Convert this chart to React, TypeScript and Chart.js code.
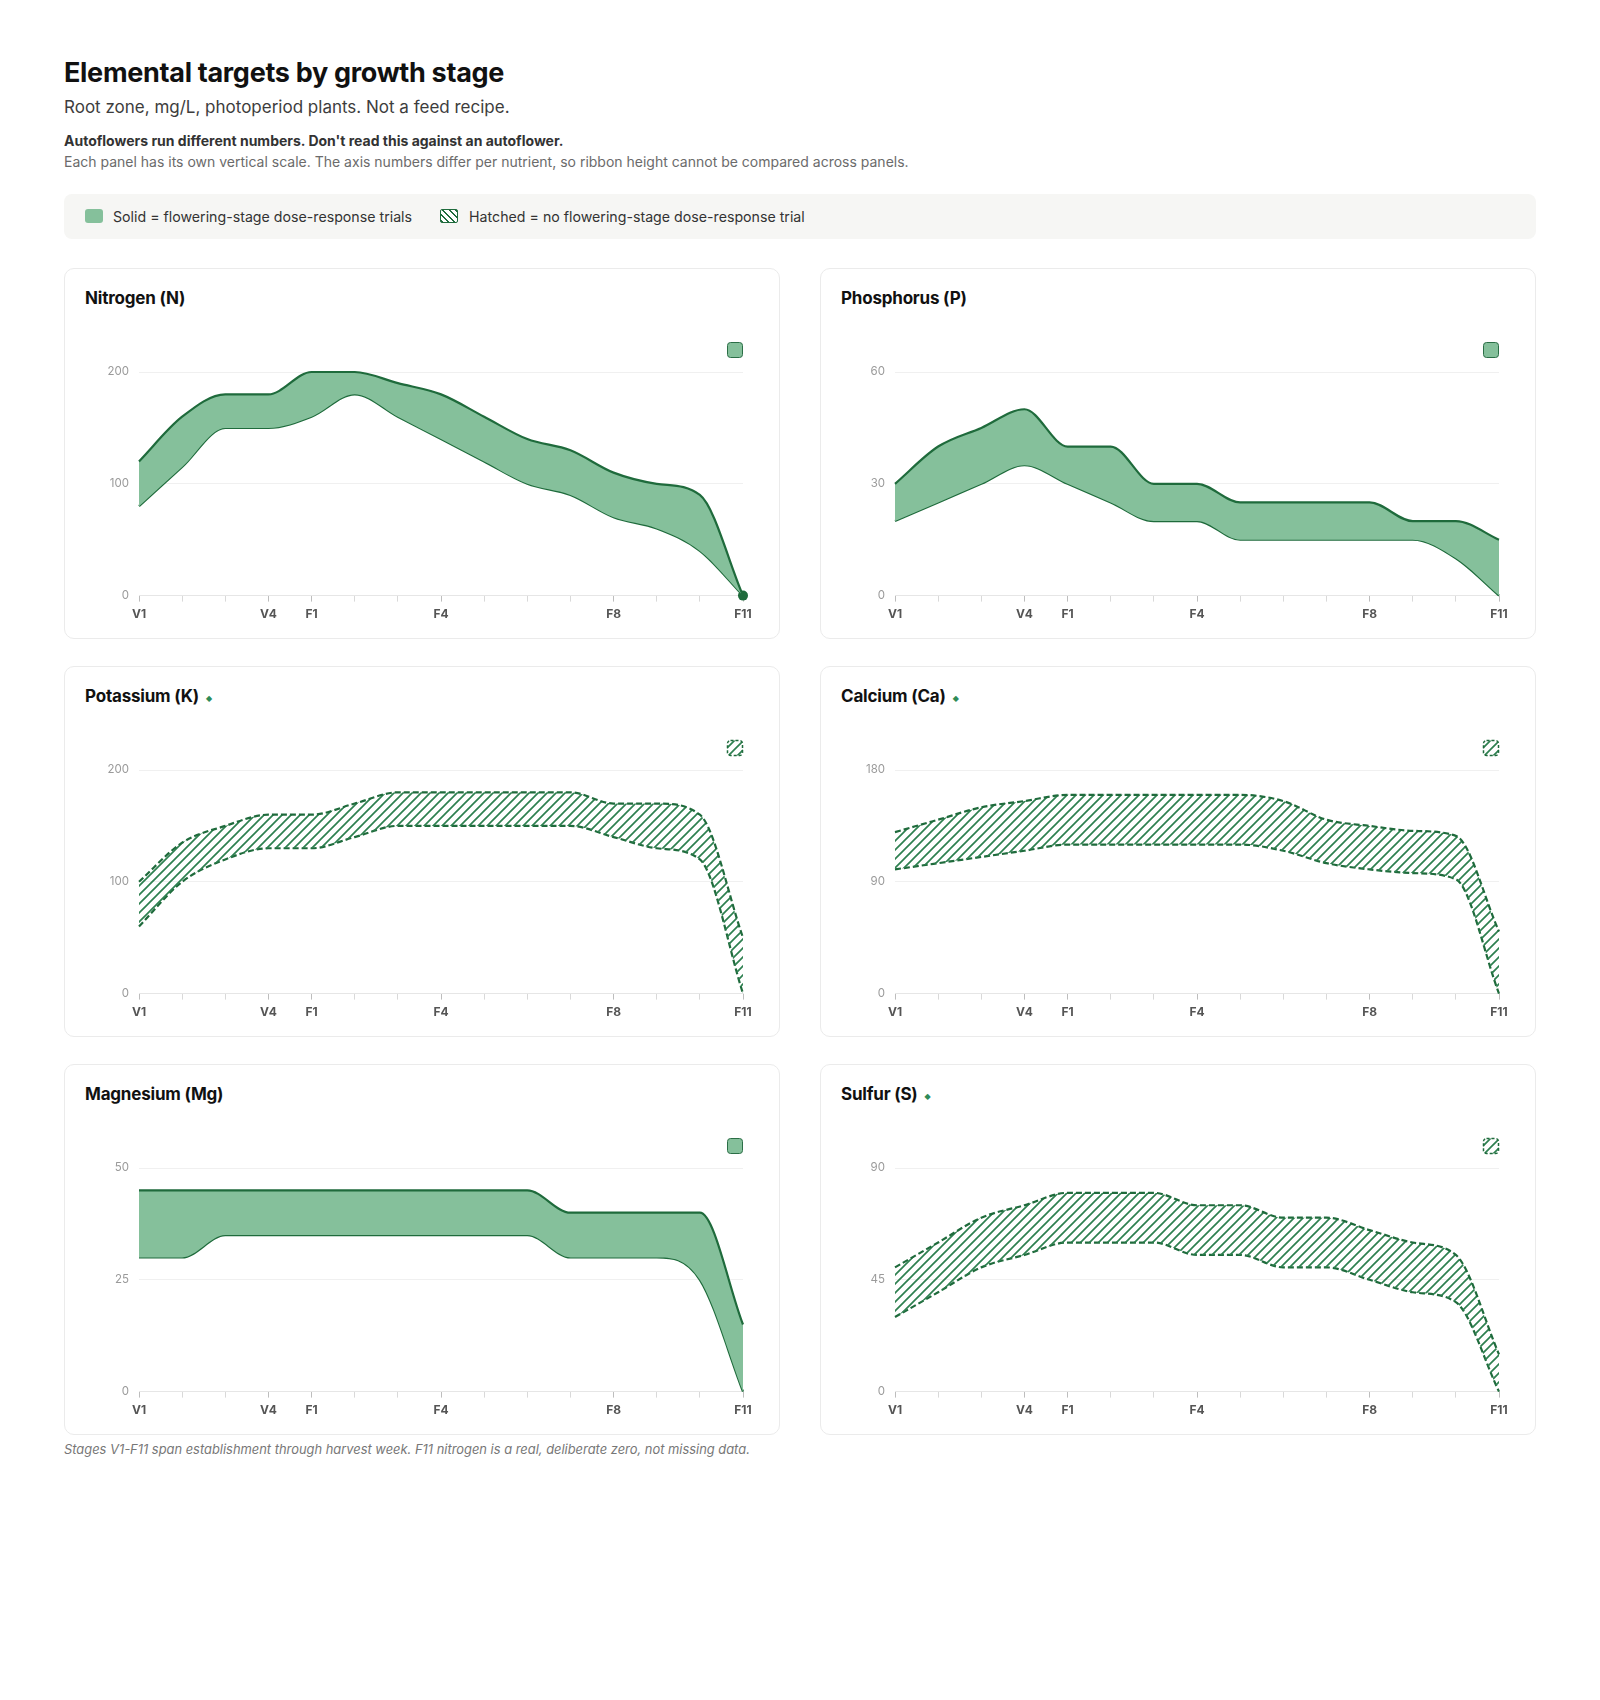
import React, { useEffect, useRef } from 'react';
import { Chart, registerables } from 'chart.js';

Chart.register(...registerables);

// ---------- data ----------
const stages = ['V1', 'V2', 'V3', 'V4', 'F1', 'F2', 'F3', 'F4', 'F5', 'F6', 'F7', 'F8', 'F9', 'F10', 'F11'];
const labeledStages = ['V1', 'V4', 'F1', 'F4', 'F8', 'F11'];

const nitrogenHigh = [120, 160, 180, 180, 200, 200, 190, 180, 160, 140, 130, 110, 100, 90, 0];
const nitrogenLow = [80, 115, 150, 150, 160, 180, 160, 140, 120, 100, 90, 70, 60, 40, 0];

const phosphorusHigh = [30, 40, 45, 50, 40, 40, 30, 30, 25, 25, 25, 25, 20, 20, 15];
const phosphorusLow = [20, 25, 30, 35, 30, 25, 20, 20, 15, 15, 15, 15, 15, 10, 0];

const potassiumHigh = [100, 135, 150, 160, 160, 170, 180, 180, 180, 180, 180, 170, 170, 160, 50];
const potassiumLow = [60, 100, 120, 130, 130, 140, 150, 150, 150, 150, 150, 140, 130, 120, 0];

const calciumHigh = [130, 140, 150, 155, 160, 160, 160, 160, 160, 155, 140, 135, 131, 127, 50];
const calciumLow = [100, 105, 110, 115, 120, 120, 120, 120, 120, 115, 105, 100, 97, 92, 0];

const magnesiumHigh = [45, 45, 45, 45, 45, 45, 45, 45, 45, 45, 40, 40, 40, 40, 15];
const magnesiumLow = [30, 30, 35, 35, 35, 35, 35, 35, 35, 35, 30, 30, 30, 25, 0];

const sulfurHigh = [50, 60, 70, 75, 80, 80, 80, 75, 75, 70, 70, 65, 60, 55, 15];
const sulfurLow = [30, 40, 50, 55, 60, 60, 60, 55, 55, 50, 50, 45, 40, 36, 0];

const nutrientNames = ['Nitrogen (N)', 'Phosphorus (P)', 'Potassium (K)', 'Calcium (Ca)', 'Magnesium (Mg)', 'Sulfur (S)'];
const nutrientAxisMax = [200, 60, 200, 180, 50, 90];
const nutrientHatched = [false, false, true, true, false, true];
const highSeries = [nitrogenHigh, phosphorusHigh, potassiumHigh, calciumHigh, magnesiumHigh, sulfurHigh];
const lowSeries = [nitrogenLow, phosphorusLow, potassiumLow, calciumLow, magnesiumLow, sulfurLow];

// ---------- styles ----------
const DARK = '#1f6b3c';
const FILL = '#85c09b';
const HATCH = '#2e8050';
const FONT = 'Inter, "Noto Sans", sans-serif';

function makeHatch(ctx: CanvasRenderingContext2D, color: string, spacing = 9, width = 1.7) {
  const c = document.createElement('canvas');
  c.width = spacing;
  c.height = spacing;
  const g = c.getContext('2d')!;
  g.strokeStyle = color;
  g.lineWidth = width;
  g.beginPath();
  g.moveTo(0, spacing);
  g.lineTo(spacing, 0);
  g.moveTo(-spacing, spacing);
  g.lineTo(spacing, -spacing);
  g.moveTo(0, spacing * 2);
  g.lineTo(spacing * 2, 0);
  g.stroke();
  return ctx.createPattern(c, 'repeat');
}

const swatchPlugin = {
  id: 'rangeSwatch',
  afterDraw(chart: any, _args: any, opts: any) {
    const { ctx, chartArea } = chart;
    const s = 16;
    const x = chartArea.right - s;
    const y = chartArea.top - 30;
    ctx.save();
    ctx.beginPath();
    ctx.roundRect(x + 0.5, y + 0.5, s - 1, s - 1, 3);
    if (opts.hatched) {
      ctx.fillStyle = '#ffffff';
      ctx.fill();
      ctx.save();
      ctx.clip();
      ctx.fillStyle = opts.pattern;
      ctx.fillRect(x, y, s, s);
      ctx.restore();
      ctx.setLineDash([3, 2]);
      ctx.strokeStyle = DARK;
      ctx.lineWidth = 1.5;
      ctx.stroke();
    } else {
      ctx.fillStyle = FILL;
      ctx.fill();
      ctx.strokeStyle = '#2b6e46';
      ctx.lineWidth = 1;
      ctx.stroke();
    }
    ctx.restore();
  },
};

function Panel({ index }: { index: number }) {
  const ref = useRef<HTMLCanvasElement | null>(null);
  const hatched = nutrientHatched[index];
  const max = nutrientAxisMax[index];
  const high = highSeries[index];
  const low = lowSeries[index];

  useEffect(() => {
    const canvas = ref.current;
    if (!canvas) return;
    const ctx2d = canvas.getContext('2d')!;
    const pattern = makeHatch(ctx2d, HATCH);
    const dash = hatched ? [6, 3] : [];
    const chart = new Chart(canvas, {
      type: 'line',
      data: {
        labels: stages,
        datasets: [
          {
            label: nutrientNames[index] + ' upper',
            data: high,
            borderColor: DARK,
            borderWidth: 2.2,
            borderDash: dash,
            backgroundColor: hatched ? (pattern as any) : FILL,
            fill: '+1',
            pointRadius: 0,
            cubicInterpolationMode: 'monotone',
            clip: 8,
          },
          {
            label: nutrientNames[index] + ' lower',
            data: low,
            borderColor: DARK,
            borderWidth: 2.2,
            borderDash: dash,
            fill: false,
            pointRadius: high.map((v) => (v === 0 ? 5 : 0)),
            pointBackgroundColor: DARK,
            pointBorderColor: DARK,
            pointBorderWidth: 0,
            cubicInterpolationMode: 'monotone',
            clip: 8,
          },
        ],
      },
      options: {
        animation: false,
        responsive: true,
        maintainAspectRatio: false,
        layout: { padding: { top: 64, right: 16, bottom: 0, left: 0 } },
        plugins: {
          legend: { display: false },
          tooltip: { enabled: false },
          rangeSwatch: { hatched, pattern },
        } as any,
        scales: {
          x: {
            type: 'category',
            grid: {
              display: true,
              drawOnChartArea: false,
              drawTicks: true,
              tickLength: 6,
              tickColor: (c: any) =>
                labeledStages.includes(stages[c.index]) ? '#bdbdbd' : '#d9d9d9',
            },
            border: { display: true, color: '#e6e6e6', width: 1 },
            ticks: {
              autoSkip: false,
              maxRotation: 0,
              minRotation: 0,
              padding: 6,
              color: '#555555',
              font: { family: FONT, size: 12, weight: 'bold' },
              callback: (_v: any, i: number) => (labeledStages.includes(stages[i]) ? stages[i] : ''),
            },
          },
          y: {
            min: 0,
            max,
            afterFit: (scale: any) => {
              scale.width = 54;
            },
            grid: { color: '#f0f0f0', drawTicks: false, lineWidth: 1 },
            border: { display: false },
            ticks: {
              stepSize: max / 2,
              padding: 10,
              color: '#9a9a9a',
              font: { family: FONT, size: 11.5 },
            },
          },
        },
      },
      plugins: [swatchPlugin],
    } as any);
    return () => chart.destroy();
  }, [index]);

  return (
    <div
      style={{
        boxSizing: 'border-box',
        height: 371,
        border: '1px solid #ebebeb',
        borderRadius: 10,
        background: '#ffffff',
        padding: '19.5px 20px 0 20px',
      }}
    >
      <div style={{ fontSize: 17, fontWeight: 700, lineHeight: '20px', height: 20, color: '#111111', letterSpacing: '-0.2px' }}>
        {nutrientNames[index]}
        {hatched ? (
          <span
            style={{
              fontFamily: '"DejaVu Sans", sans-serif',
              fontSize: 8,
              color: '#2e8b57',
              marginLeft: 7,
              position: 'relative',
              top: -1,
            }}
          >
            ◆
          </span>
        ) : null}
      </div>
      <div style={{ position: 'relative', height: 320, width: '100%' }}>
        <canvas ref={ref} />
      </div>
    </div>
  );
}

export default function App() {
  return (
    <div style={{ fontFamily: FONT, paddingTop: 49, paddingLeft: 56, width: 1472, color: '#111' }}>
      <div style={{ fontSize: 27, fontWeight: 700, lineHeight: '32px', letterSpacing: '-0.3px', color: '#111111' }}>
        Elemental targets by growth stage
      </div>
      <div style={{ fontSize: 17, lineHeight: '22px', marginTop: 6.5, color: '#3d3d3d' }}>
        Root zone, mg/L, photoperiod plants. Not a feed recipe.
      </div>
      <div style={{ fontSize: 14, lineHeight: '21px', marginTop: 12, fontWeight: 700, color: '#333333' }}>
        Autoflowers run different numbers. Don't read this against an autoflower.
      </div>
      <div style={{ fontSize: 14, lineHeight: '21px', color: '#6b6b6b' }}>
        Each panel has its own vertical scale. The axis numbers differ per nutrient, so ribbon height cannot be compared across panels.
      </div>
      <div
        style={{
          marginTop: 22,
          height: 45,
          background: '#f6f6f4',
          borderRadius: 8,
          display: 'flex',
          alignItems: 'center',
          paddingLeft: 21,
          fontSize: 14.2,
          color: '#333333',
        }}
      >
        <span style={{ display: 'inline-block', width: 18, height: 14, borderRadius: 3, background: FILL }} />
        <span style={{ marginLeft: 10 }}>Solid = flowering-stage dose-response trials</span>
        <span
          style={{
            display: 'inline-block',
            boxSizing: 'border-box',
            width: 18,
            height: 14,
            borderRadius: 2,
            marginLeft: 28,
            border: '1.5px solid ' + DARK,
            background: 'repeating-linear-gradient(45deg, #1f6b3c 0 1.5px, #ffffff 1.5px 4.5px)',
          }}
        />
        <span style={{ marginLeft: 11 }}>Hatched = no flowering-stage dose-response trial</span>
      </div>
      <div
        style={{
          marginTop: 29,
          display: 'grid',
          gridTemplateColumns: '1fr 1fr',
          columnGap: 40,
          rowGap: 27,
        }}
      >
        {nutrientNames.map((_n, i) => (
          <Panel key={i} index={i} />
        ))}
      </div>
      <div style={{ marginTop: 6, fontSize: 12.9, lineHeight: '18px', fontStyle: 'italic', color: '#777777' }}>
        Stages V1-F11 span establishment through harvest week. F11 nitrogen is a real, deliberate zero, not missing data.
      </div>
    </div>
  );
}
